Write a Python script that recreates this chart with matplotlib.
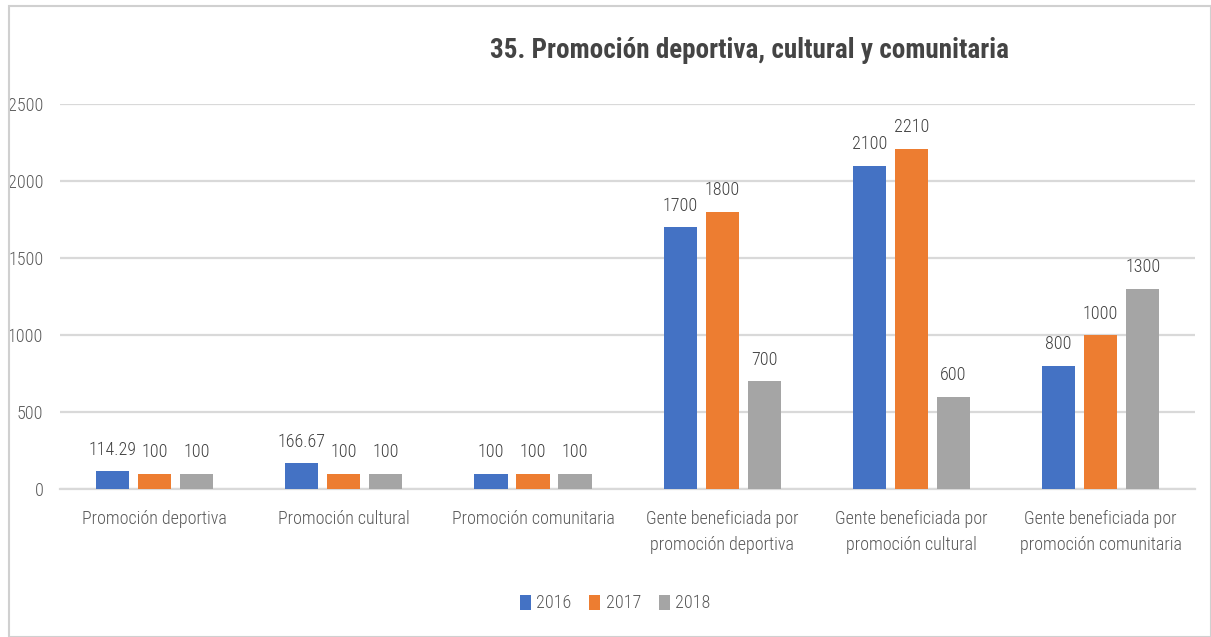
import matplotlib
matplotlib.use("Agg")
import matplotlib.pyplot as plt
import numpy as np
from matplotlib.patches import Rectangle

categories = [
    "Promoción deportiva",
    "Promoción cultural",
    "Promoción comunitaria",
    "Gente beneficiada por\npromoción deportiva",
    "Gente beneficiada por\npromoción cultural",
    "Gente beneficiada por\npromoción comunitaria",
]
years = ["2016", "2017", "2018"]
values_2016 = [114.29, 166.67, 100, 1700, 2100, 800]
values_2017 = [100, 100, 100, 1800, 2210, 1000]
values_2018 = [100, 100, 100, 700, 600, 1300]
colors = ["#4472C4", "#ED7D31", "#A5A5A5"]

plt.rcParams["font.family"] = ["Roboto Condensed", "Archivo Narrow", "Asap Condensed", "DejaVu Sans"]
text_color = "#595959"

fig = plt.figure(figsize=(12.11, 6.37), dpi=100)
ax = fig.add_axes([0.0495, 0.2323, 0.9375, 0.6044])

# chart frame
fig.patches.append(Rectangle((9 / 1211, 0), 1 - 9 / 1211, 1 - 6 / 637,
                             transform=fig.transFigure, fill=False,
                             edgecolor="#d0d0d0", linewidth=1.5))

x = np.arange(len(categories))
width = 0.175
step = 0.222
series = [values_2016, values_2017, values_2018]
for i, (vals, year, col) in enumerate(zip(series, years, colors)):
    bars = ax.bar(x + (i - 1) * step, vals, width, color=col, label=year, zorder=3)
    labels = [("%.2f" % v).rstrip("0").rstrip(".") for v in vals]
    ax.bar_label(bars, labels=labels, padding=9, fontsize=13, color="#404040",
                 fontweight="light")

ax.set_xlim(-0.5, len(categories) - 0.5)
ax.set_ylim(0, 2500)
ax.set_yticks(range(0, 2501, 500))
ax.set_xticks(x)
ax.set_xticklabels(categories, fontsize=13, color=text_color, linespacing=1.55,
                   fontweight="light")
for t in ax.get_yticklabels():
    t.set_fontweight("light")
ax.tick_params(axis="y", labelsize=13, labelcolor=text_color, length=0, pad=12)
ax.tick_params(axis="x", length=0, pad=15)
ax.grid(axis="y", color="#d9d9d9", linewidth=1.6, zorder=0)
for s in ["top", "right", "left"]:
    ax.spines[s].set_visible(False)
ax.spines["bottom"].set_color("#d9d9d9")
ax.spines["bottom"].set_linewidth(1.6)

fig.text(0.619, 0.921, "35. Promoción deportiva, cultural y comunitaria",
         ha="center", va="center", fontsize=19.5, fontweight="bold", color="#444444")

leg = fig.legend(loc="center", bbox_to_anchor=(0.508, 0.053), ncol=3, frameon=False,
                 fontsize=13, handlelength=0.6, handleheight=0.9, handletextpad=0.3,
                 columnspacing=1.0)
for t in leg.get_texts():
    t.set_color(text_color)
    t.set_fontweight("light")

fig.savefig("out.png", dpi=100)
